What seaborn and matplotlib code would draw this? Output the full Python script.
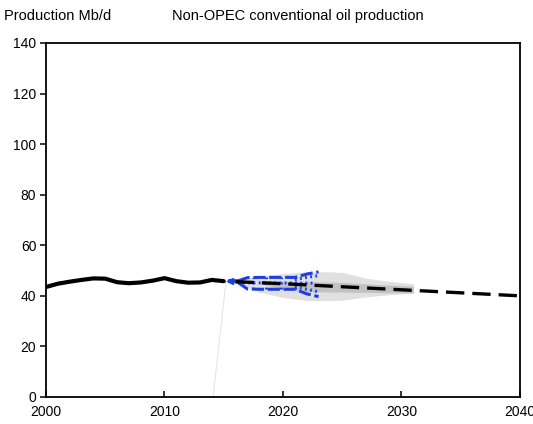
import numpy as np
import pandas as pd
import matplotlib
matplotlib.use("Agg")
import matplotlib.pyplot as plt
import seaborn as sns

# Historical non-OPEC conventional oil production (Mb/d)
hist_years = [2000, 2001, 2002, 2003, 2004, 2005, 2006, 2007, 2008, 2009,
              2010, 2011, 2012, 2013, 2014, 2015]
hist_values = [43.5, 44.8, 45.6, 46.3, 46.9, 46.8, 45.4, 45.0, 45.3, 46.0,
               47.0, 45.8, 45.2, 45.3, 46.3, 45.8]

# Central projection
proj_years = [2016, 2020, 2025, 2030, 2035, 2040]
proj_values = [45.6, 44.8, 43.6, 42.4, 41.2, 40.0]

# Outer uncertainty band
fan_years = [2016, 2018, 2020, 2022, 2024, 2025, 2027, 2029, 2031]
fan_outer_hi = [46.0, 47.8, 48.8, 49.5, 49.5, 49.3, 47.0, 45.7, 44.8]
fan_outer_lo = [45.0, 41.5, 39.3, 38.2, 38.1, 38.3, 39.6, 40.5, 41.0]

# Inner uncertainty band
inner_years = [2018, 2020, 2022, 2025, 2028, 2031]
fan_inner_hi = [45.5, 45.8, 45.7, 45.3, 44.5, 43.8]
fan_inner_lo = [45.0, 42.5, 41.6, 41.5, 41.3, 41.2]

# Short-term outlook ranges
st_years = [2016.2, 2017.0, 2018.0, 2019.0, 2020.0, 2021.0, 2022.0, 2023.0]
st_upper = [45.9, 47.2, 47.3, 47.3, 47.3, 47.3, 48.6, 49.5]
st_lower = [45.3, 42.7, 42.6, 42.6, 42.6, 42.6, 40.8, 39.7]
st_inner_years = [2021.0, 2022.0, 2023.0]
st_inner_upper = [46.4, 47.3, 48.0]
st_inner_lower = [43.6, 42.6, 41.6]
st_mid_years = [2016.2, 2022.5]
st_mid_values = [45.2, 45.0]
st_box_edges = [2016.3, 2017.45, 2018.6, 2019.8, 2021.0]
st_link_years = [2015.5, 2016.3]
st_link_values = [45.9, 45.7]

# Faint connector
ghost_years = [2014.1, 2015.2]
ghost_values = [0.0, 46.0]

x_ticks = [2000, 2010, 2020, 2030, 2040]
y_ticks = [0, 20, 40, 60, 80, 100, 120, 140]

sns.set_theme(style="white")
plt.rcParams["font.family"] = ["Liberation Sans", "DejaVu Sans"]

fig = plt.figure(figsize=(5.33, 4.24), dpi=100)
ax = fig.add_axes([0.0863, 0.0637, 0.8893, 0.8349])

blue = "#1f3fe0"

# Uncertainty fan
ax.fill_between(fan_years, fan_outer_lo, fan_outer_hi, color="#e0e0e0", lw=0, zorder=1)
ax.fill_between(inner_years, fan_inner_lo, fan_inner_hi, color="#c2c2c2", lw=0, zorder=1.1)

# Faint connector
sns.lineplot(x=ghost_years, y=ghost_values, ax=ax, color="#e6e6e6", lw=0.8, zorder=1.2)

# Short-term outlook range lines
st = pd.DataFrame({"year": st_years, "upper": st_upper, "lower": st_lower})
for col in ["upper", "lower"]:
    sns.lineplot(data=st, x="year", y=col, ax=ax, color=blue, lw=2.2, zorder=2)
    ax.lines[-1].set_dashes([4.0, 1.2])
for vals in [st_inner_upper, st_inner_lower]:
    sns.lineplot(x=st_inner_years, y=vals, ax=ax, color=blue, lw=2.2, zorder=2)
    ax.lines[-1].set_dashes([0.6, 1.1])
sns.lineplot(x=st_mid_years, y=st_mid_values, ax=ax, color=blue, lw=2.2, zorder=2)
ax.lines[-1].set_dashes([0.6, 1.1])
ax.vlines(st_box_edges,
          np.interp(st_box_edges, st_years, st_lower),
          np.interp(st_box_edges, st_years, st_upper),
          colors=blue, linestyles=(0, (0.6, 1.1)), lw=2.2, zorder=2)
sns.lineplot(x=st_link_years, y=st_link_values, ax=ax, color=blue, lw=3.0, zorder=2.5)
ax.plot(st_link_years[:1], st_link_values[:1], marker="<", color=blue, ms=4.5, zorder=2.6)

# Central projection
proj = pd.DataFrame({"year": proj_years, "value": proj_values})
sns.lineplot(data=proj, x="year", y="value", ax=ax, color="black", lw=2.4, zorder=3)
ax.lines[-1].set_dashes([5.5, 2.4])

# Historical production
hist = pd.DataFrame({"year": hist_years, "value": hist_values})
sns.lineplot(data=hist, x="year", y="value", ax=ax, color="black", lw=3.0, zorder=3)
ax.lines[-1].set_solid_joinstyle("round")

ax.set_xlim(2000, 2040)
ax.set_ylim(0, 140)
ax.set_xticks(x_ticks)
ax.set_yticks(y_ticks)
ax.set_xlabel("")
ax.set_ylabel("")
for s in ax.spines.values():
    s.set_color("black")
    s.set_linewidth(1.3)
ax.tick_params(axis="y", direction="out", length=4, width=1.1, color="black",
               labelcolor="black", labelsize=10, pad=3, left=True)
ax.tick_params(axis="x", direction="in", length=4, width=1.1, color="black",
               labelcolor="black", labelsize=10, pad=6, bottom=True)
ax.grid(False)

fig.text(0.008, 0.962, "Production Mb/d", fontsize=10.5, color="black",
         ha="left", va="center")
fig.text(0.322, 0.962, "Non-OPEC conventional oil production", fontsize=10.5,
         color="black", ha="left", va="center")

fig.savefig("out.png", dpi=100)
